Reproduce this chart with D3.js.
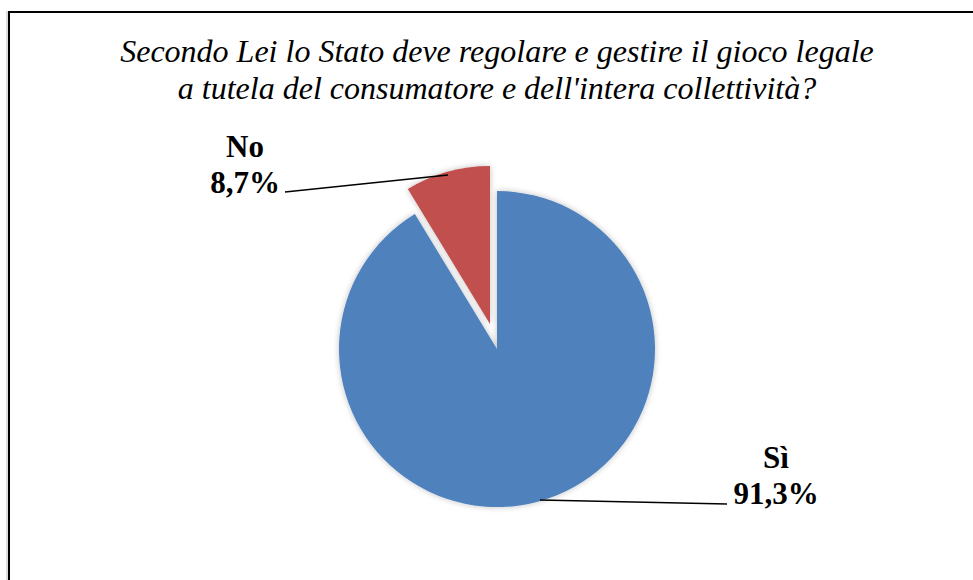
<!DOCTYPE html>
<html>
<head>
<meta charset="utf-8">
<script src="https://d3js.org/d3.v7.min.js"></script>
<style>
  body { margin: 0; background: #fff; }
</style>
</head>
<body>
<div id="chart"></div>
<script>
// data
const labels = ["Sì", "No"];
const values = [91.3, 8.7];
const colors = ["#4F81BD", "#C0504D"];
const titleLines = [
  "Secondo Lei lo Stato deve regolare e gestire il gioco legale",
  "a tutela del consumatore e dell'intera collettività?"
];

const W = 973, H = 580;
const cx = 497, cy = 349, R = 158;
const explode = 26;
const serif = "'Liberation Serif', 'Times New Roman', Times, serif";

const svg = d3.select("#chart").append("svg")
    .attr("width", W).attr("height", H);

const defs = svg.append("defs");
const f = defs.append("filter").attr("id", "sh")
    .attr("x", "-20%").attr("y", "-20%").attr("width", "140%").attr("height", "140%");
f.append("feGaussianBlur").attr("in", "SourceAlpha").attr("stdDeviation", 3).attr("result", "b");
f.append("feComponentTransfer").attr("in", "b").attr("result", "b2")
  .append("feFuncA").attr("type", "linear").attr("slope", 0.25);
const fm = f.append("feMerge");
fm.append("feMergeNode").attr("in", "b2");
fm.append("feMergeNode").attr("in", "SourceGraphic");

// frame (runs off right and bottom)
svg.append("line").attr("x1", 7).attr("x2", 7).attr("y1", 11).attr("y2", H)
    .attr("stroke", "#bbb").attr("stroke-width", 1);
svg.append("path")
    .attr("d", `M9,${H + 5} V12 H${W + 5}`)
    .attr("fill", "none").attr("stroke", "#000").attr("stroke-width", 2);

// title
svg.append("text")
    .attr("x", 497).attr("y", 62)
    .attr("text-anchor", "middle")
    .attr("font-family", serif)
    .attr("font-style", "italic")
    .attr("font-size", 32)
    .selectAll("tspan").data(titleLines).join("tspan")
    .attr("x", 497).attr("dy", (d, i) => i === 0 ? 0 : 37)
    .text(d => d);

// pie: Sì clockwise from 12 o'clock, No closes the circle
const pie = d3.pie().sort(null).value(d => d)
    .startAngle(0).endAngle(2 * Math.PI);
const arcs = pie(values);

const arc = d3.arc().innerRadius(0).outerRadius(R);
const g = svg.append("g").attr("transform", `translate(${cx},${cy})`);

g.selectAll("path").data(arcs).join("path")
    .attr("d", arc)
    .attr("fill", (d, i) => colors[i])
    .attr("filter", "url(#sh)")
    .attr("transform", (d, i) => {
      if (labels[i] !== "No") return null;
      const m = (d.startAngle + d.endAngle) / 2;
      return `translate(${explode * Math.sin(m)},${-explode * Math.cos(m)})`;
    });

// labels with leader lines
const labelPos = {
  "No": { x: 245, y: 157, lx: 285, ly: 192, ex: 448, ey: 175 },
  "Sì": { x: 776, y: 468, lx: 727, ly: 504, ex: 540, ey: 500 }
};

labels.forEach((lab, i) => {
  const p = labelPos[lab];
  svg.append("path")
      .attr("d", `M${p.lx},${p.ly} L${p.ex},${p.ey}`)
      .attr("stroke", "#000").attr("stroke-width", 1.5).attr("fill", "none");
  const t = svg.append("text")
      .attr("text-anchor", "middle")
      .attr("font-family", serif)
      .attr("font-weight", "bold")
      .attr("font-size", 31);
  t.append("tspan").attr("x", p.x).attr("y", p.y).text(lab);
  t.append("tspan").attr("x", p.x).attr("dy", 36)
      .text(d3.format(".1f")(values[i]).replace(".", ",") + "%");
});
</script>
</body>
</html>
